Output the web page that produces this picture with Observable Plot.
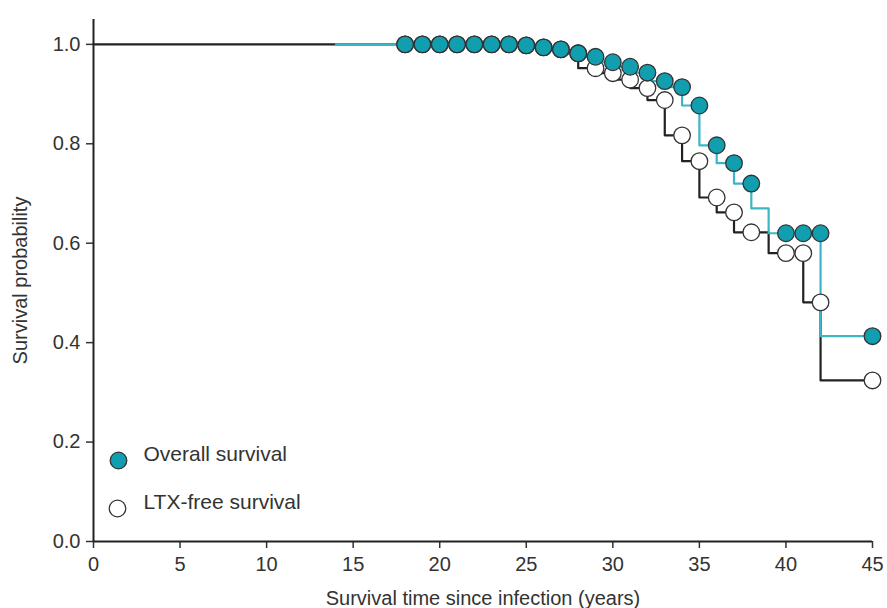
<!DOCTYPE html>
<html>
<head>
<meta charset="utf-8">
<script src="https://cdn.jsdelivr.net/npm/d3@7"></script>
<script src="https://cdn.jsdelivr.net/npm/@observablehq/plot@0.6"></script>
<style>
  html, body { margin: 0; padding: 0; background: #fff; }
  #chart { width: 887px; height: 608px; }
</style>
</head>
<body>
<div id="chart"></div>
<script>
// Tick labels
const xTicks = [0, 5, 10, 15, 20, 25, 30, 35, 40, 45];
const yTicks = [0, 0.2, 0.4, 0.6, 0.8, 1.0];

// Overall survival: markers
const overallYears = [18,19,20,21,22,23,24,25,26,27,28,29,30,31,32,33,34,35,36,37,38,40,41,42,45];
const overallSurv  = [1,1,1,1,1,1,1,0.998,0.994,0.99,0.982,0.975,0.964,0.955,0.943,0.926,0.914,0.877,0.797,0.761,0.72,0.62,0.62,0.62,0.413];
// Overall survival: step curve vertices
const overallLineYears = [14,18,19,20,21,22,23,24,25,26,27,28,29,30,31,32,33,34,35,36,37,38,39,40,41,42,45];
const overallLineSurv  = [1,1,1,1,1,1,1,1,0.998,0.994,0.99,0.982,0.975,0.964,0.955,0.943,0.926,0.914,0.877,0.797,0.761,0.72,0.67,0.62,0.62,0.62,0.413];

// LTX-free survival: markers
const ltxYears = [18,19,20,21,22,23,24,25,26,27,28,29,30,31,32,33,34,35,36,37,38,40,41,42,45];
const ltxSurv  = [1,1,1,1,1,1,1,0.998,0.994,0.99,0.982,0.952,0.942,0.929,0.912,0.888,0.817,0.765,0.692,0.662,0.622,0.58,0.58,0.481,0.324];
// LTX-free survival: step curve vertices
const ltxLineYears = [0,18,19,20,21,22,23,24,25,26,27,28,29,30,31,32,33,34,35,36,37,38,39,40,41,42,45];
const ltxLineSurv  = [1,1,1,1,1,1,1,1,0.998,0.994,0.99,0.982,0.952,0.942,0.929,0.912,0.888,0.817,0.765,0.692,0.662,0.622,0.622,0.58,0.58,0.481,0.324];

const seriesNames = ["Overall survival", "LTX-free survival"];

const toRows = (xs, ys) => xs.map((x, i) => ({x, y: ys[i]}));
const overallPts = toRows(overallYears, overallSurv);
const overallLine = toRows(overallLineYears, overallLineSurv);
const ltxPts = toRows(ltxYears, ltxSurv);
const ltxLine = toRows(ltxLineYears, ltxLineSurv);

const TEAL_FILL = "#119faf";
const TEAL_LINE = "#3cb6c6";
const DARK = "#222";
const TXT = "#333";
const FS = 21;

const chart = Plot.plot({
  width: 887,
  height: 608,
  marginLeft: 93,
  marginRight: 15,
  marginTop: 19,
  marginBottom: 67,
  style: { fontFamily: "'Liberation Sans', Arial, sans-serif", fontSize: FS + "px", color: TXT, background: "#fff", overflow: "visible" },
  x: { domain: [0, 45] },
  y: { domain: [0, 1.05] },
  marks: [
    Plot.axisX({ ticks: xTicks, tickSize: 7, tickPadding: 8, strokeWidth: 1.5, stroke: TXT, fill: TXT, fontSize: 20,
      label: "Survival time since infection (years)", labelAnchor: "center", labelArrow: false, labelOffset: 63 }),
    Plot.axisY({ ticks: yTicks, tickFormat: d3.format(".1f"), tickSize: 7, tickPadding: 6, strokeWidth: 1.5, stroke: TXT, fill: TXT, fontSize: 20,
      label: "Survival probability", labelAnchor: "center", labelArrow: false, labelOffset: 81 }),
    Plot.ruleX([0], { stroke: DARK, strokeWidth: 2 }),
    Plot.ruleY([0], { stroke: DARK, strokeWidth: 2 }),
    Plot.line(ltxLine, { x: "x", y: "y", curve: "step-before", stroke: DARK, strokeWidth: 2.2 }),
    Plot.line(overallLine, { x: "x", y: "y", curve: "step-before", stroke: TEAL_LINE, strokeWidth: 2.2 }),
    Plot.dot(ltxPts, { x: "x", y: "y", r: 8.3, fill: "#fff", stroke: "#333", strokeWidth: 1.3 }),
    Plot.dot(overallPts, { x: "x", y: "y", r: 8.3, fill: TEAL_FILL, stroke: "#333", strokeWidth: 1.3 }),
    // Legend inside the frame
    Plot.dot([seriesNames[0]], { frameAnchor: "bottom-left", dx: 25, dy: -81, r: 8.3, fill: TEAL_FILL, stroke: "#333", strokeWidth: 1.3 }),
    Plot.dot([seriesNames[1]], { frameAnchor: "bottom-left", dx: 24, dy: -33, r: 8.3, fill: "#fff", stroke: "#333", strokeWidth: 1.3 }),
    Plot.text([seriesNames[0]], { text: d => d, frameAnchor: "bottom-left", dx: 50, dy: -81, textAnchor: "start", fontSize: FS, fill: TXT }),
    Plot.text([seriesNames[1]], { text: d => d, frameAnchor: "bottom-left", dx: 50, dy: -33, textAnchor: "start", fontSize: FS, fill: TXT })
  ]
});
document.getElementById("chart").appendChild(chart);
</script>
</body>
</html>
